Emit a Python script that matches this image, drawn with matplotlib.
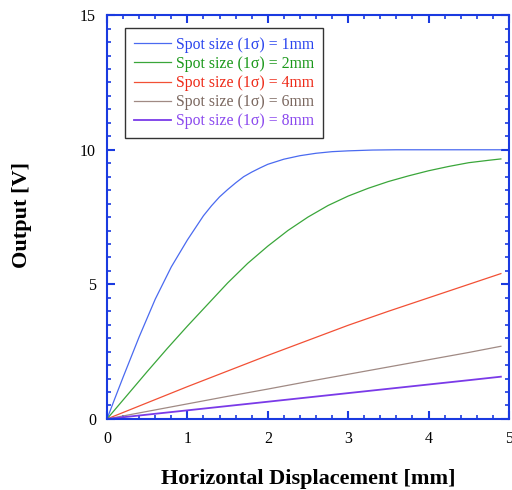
import numpy as np
import matplotlib
matplotlib.use('Agg')
import matplotlib.pyplot as plt

plt.rcParams['font.family'] = ['Liberation Serif', 'DejaVu Serif']

# values (x in mm, output in V)
x_1mm = [0, 0.1, 0.2, 0.3, 0.4, 0.5, 0.6, 0.7, 0.8, 0.9, 1.0, 1.1, 1.2, 1.3, 1.4, 1.5,
         1.6, 1.7, 1.8, 1.9, 2.0, 2.2, 2.4, 2.6, 2.8, 3.0, 3.3, 3.6, 4.0, 4.5, 4.9]
out_1mm = [0, 0.78, 1.55, 2.3, 3.05, 3.75, 4.45, 5.05, 5.65, 6.15, 6.65, 7.1, 7.55, 7.92,
           8.25, 8.52, 8.77, 9.0, 9.17, 9.32, 9.46, 9.65, 9.78, 9.87, 9.93, 9.96, 9.99,
           10.0, 10.0, 10.0, 10.0]

x_2mm = [0, 0.25, 0.5, 0.75, 1.0, 1.25, 1.5, 1.75, 2.0, 2.25, 2.5, 2.75, 3.0, 3.25,
         3.5, 3.75, 4.0, 4.25, 4.5, 4.75, 4.9]
out_2mm = [0, 0.88, 1.76, 2.62, 3.45, 4.25, 5.05, 5.78, 6.42, 7.0, 7.5, 7.93, 8.28,
           8.57, 8.82, 9.03, 9.22, 9.38, 9.52, 9.61, 9.66]

x_wide = [0, 0.5, 1.0, 1.5, 2.0, 2.5, 3.0, 3.5, 4.0, 4.5, 4.9]
out_4mm = [0, 0.6, 1.2, 1.78, 2.36, 2.92, 3.48, 4.0, 4.5, 5.0, 5.4]
out_6mm = [0, 0.28, 0.56, 0.84, 1.11, 1.39, 1.66, 1.93, 2.2, 2.47, 2.7]
out_8mm = [0, 0.16, 0.32, 0.48, 0.64, 0.8, 0.96, 1.12, 1.28, 1.44, 1.57]

labels = ['Spot size (1σ) = 1mm', 'Spot size (1σ) = 2mm', 'Spot size (1σ) = 4mm',
          'Spot size (1σ) = 6mm', 'Spot size (1σ) = 8mm']
line_colors = ['#4a6af0', '#3aa63a', '#f25035', '#a08a84', '#7a3ae8']
text_colors = ['#2a44ee', '#1a981a', '#ee2a18', '#7a675f', '#8a48ee']
widths = [0.9, 0.9, 0.9, 0.9, 1.3]

fig = plt.figure(figsize=(5.12, 4.9), dpi=100)
ax = fig.add_axes([0.209, 0.145, 0.785, 0.824])

series = [(x_1mm, out_1mm), (x_2mm, out_2mm), (x_wide, out_4mm),
          (x_wide, out_6mm), (x_wide, out_8mm)]
for (xs, ys), lab, c, w in zip(series, labels, line_colors, widths):
    ax.plot(xs, ys, color=c, lw=w, label=lab)

ax.set_xlim(0, 5)
ax.set_ylim(0, 15)
ax.set_xticks(np.arange(0, 6, 1))
ax.set_xticks(np.arange(0, 5.01, 0.2), minor=True)
ax.set_yticks([0, 5, 10, 15])
ax.set_yticks(np.arange(0, 15.01, 0.5), minor=True)

spine_c = '#1a3ae0'
for s in ax.spines.values():
    s.set_color(spine_c)
    s.set_linewidth(1.5)
ax.tick_params(which='both', direction='in', top=True, right=True,
               color=spine_c, labelsize=11.5)
ax.tick_params(axis='x', pad=9)
ax.tick_params(axis='y', pad=8)
ax.tick_params(which='major', length=6, width=1.5)
ax.tick_params(which='minor', length=3, width=1.2)

ax.set_xlabel('Horizontal Displacement [mm]', fontsize=16, fontweight='bold')
ax.set_ylabel('Output [V]', fontsize=16, fontweight='bold')
ax.xaxis.set_label_coords(0.5, -0.124)
ax.yaxis.set_label_coords(-0.187, 0.505)

leg = ax.legend(loc='upper left', bbox_to_anchor=(0.045, 0.968), borderaxespad=0,
                fontsize=11.3, frameon=True, fancybox=False, handlelength=2.4,
                handletextpad=0.3, labelspacing=0.2, borderpad=0.55)
leg.get_frame().set_edgecolor('black')
leg.get_frame().set_linewidth(1.0)
for t, c in zip(leg.get_texts(), text_colors):
    t.set_color(c)

fig.savefig('out.png', dpi=100)
